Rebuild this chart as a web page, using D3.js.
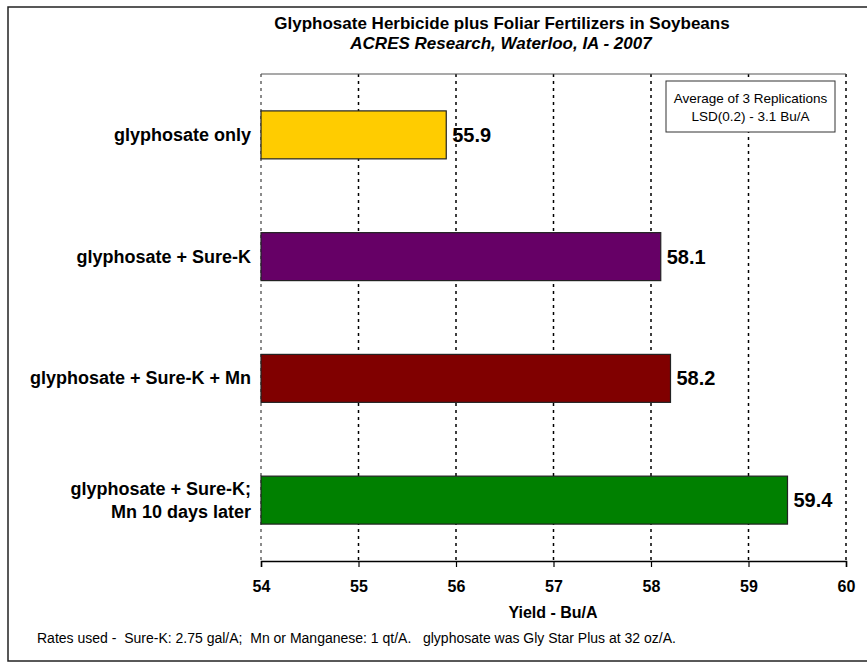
<!DOCTYPE html>
<html lang="en">
<head>
    <meta charset="UTF-8">
    <script src="https://d3js.org/d3.v7.min.js"></script>
    <style>
        body { margin: 0; background: white; }
        text { font-family: "Liberation Sans", Arial, sans-serif; fill: #000; }
        .cat { font-size: 18px; font-weight: bold; text-anchor: end; }
        .val { font-size: 20px; font-weight: bold; }
    </style>
</head>
<body>
    <svg id="chart" width="867" height="666"></svg>

    <script>
        // treatments (top to bottom) and yields
        const treatments = ["glyphosate only", "glyphosate + Sure-K", "glyphosate + Sure-K + Mn", "glyphosate + Sure-K;\nMn 10 days later"];
        const yields = [55.9, 58.1, 58.2, 59.4];
        const barColors = ["#ffcc00", "#660066", "#800000", "#008000"];
        const xTicks = [54, 55, 56, 57, 58, 59, 60];

        const title = "Glyphosate Herbicide plus Foliar Fertilizers in Soybeans";
        const subtitle = "ACRES Research, Waterloo, IA - 2007";
        const noteLines = ["Average of 3 Replications", "LSD(0.2) - 3.1 Bu/A"];
        const xTitle = "Yield - Bu/A";
        const footnote = "Rates used -  Sure-K: 2.75 gal/A;  Mn or Manganese: 1 qt/A.   glyphosate was Gly Star Plus at 32 oz/A.";

        const data = treatments.map((t, i) => ({ name: t, value: yields[i], color: barColors[i] }));

        const svg = d3.select("#chart");
        const plot = { left: 261, right: 846, top: 74, bottom: 561 };

        // outer frame (right edge runs off the picture)
        svg.append("rect")
            .attr("x", 8).attr("y", 7)
            .attr("width", 880).attr("height", 654)
            .attr("fill", "white")
            .attr("stroke", "#222")
            .attr("stroke-width", 1.5);

        const x = d3.scaleLinear().domain([54, 60]).range([plot.left, plot.right]);
        const y = d3.scaleBand()
            .domain(treatments)
            .range([plot.top, plot.bottom])
            .paddingInner(0.606)
            .paddingOuter(0.303);

        // titles
        svg.append("text")
            .attr("x", 502).attr("y", 29)
            .attr("text-anchor", "middle")
            .style("font-size", "17px").style("font-weight", "bold")
            .text(title);
        svg.append("text")
            .attr("x", 501).attr("y", 49)
            .attr("text-anchor", "middle")
            .style("font-size", "17px").style("font-weight", "bold").style("font-style", "italic")
            .text(subtitle);

        // dashed grid lines
        svg.append("g")
            .selectAll("line")
            .data(xTicks)
            .join("line")
            .attr("x1", d => x(d)).attr("x2", d => x(d))
            .attr("y1", plot.top).attr("y2", plot.bottom)
            .attr("stroke", d => (d === 54 ? "#666" : "#000"))
            .attr("stroke-width", 1.5)
            .attr("stroke-dasharray", "3,4");

        // top border
        svg.append("line")
            .attr("x1", plot.left).attr("x2", plot.right)
            .attr("y1", plot.top).attr("y2", plot.top)
            .attr("stroke", "#555").attr("stroke-width", 1.2);

        // note box
        const note = svg.append("g");
        note.append("rect")
            .attr("x", 666).attr("y", 81)
            .attr("width", 169).attr("height", 51)
            .attr("fill", "white")
            .attr("stroke", "#333");
        note.selectAll("text")
            .data(noteLines)
            .join("text")
            .attr("x", 750.5)
            .attr("y", (d, i) => 103 + i * 18)
            .attr("text-anchor", "middle")
            .style("font-size", "13.5px")
            .text(d => d);

        // bars
        svg.append("g")
            .selectAll("rect")
            .data(data)
            .join("rect")
            .attr("x", x(54))
            .attr("y", d => y(d.name))
            .attr("width", d => x(d.value) - x(54))
            .attr("height", y.bandwidth())
            .attr("fill", d => d.color)
            .attr("stroke", "#222")
            .attr("stroke-width", 1.2);

        // value labels
        svg.append("g")
            .selectAll("text")
            .data(data)
            .join("text")
            .attr("class", "val")
            .attr("x", d => x(d.value) + 6)
            .attr("y", d => y(d.name) + y.bandwidth() / 2 + 7)
            .text(d => d.value.toFixed(1));

        // category labels
        const cats = svg.append("g")
            .selectAll("text")
            .data(data)
            .join("text")
            .attr("class", "cat")
            .attr("y", d => y(d.name) + y.bandwidth() / 2 + 6);
        cats.each(function (d) {
            const lines = d.name.split("\n");
            const t = d3.select(this);
            lines.forEach((line, i) => {
                t.append("tspan")
                    .attr("x", 251)
                    .attr("dy", i === 0 ? (-(lines.length - 1) * 11.5) : 23)
                    .text(line);
            });
        });

        // x axis
        const xAxis = svg.append("g")
            .attr("transform", `translate(0,${plot.bottom})`)
            .call(d3.axisBottom(x).tickValues(xTicks).tickSize(6).tickPadding(14).tickFormat(d3.format("d")));
        xAxis.select(".domain").attr("stroke", "#000").attr("stroke-width", 1.5);
        xAxis.selectAll(".tick line").attr("stroke", "#000").attr("stroke-width", 1.2);
        xAxis.selectAll(".tick text")
            .attr("fill", "#000")
            .style("font-family", "\"Liberation Sans\", Arial, sans-serif")
            .style("font-size", "16px")
            .style("font-weight", "bold");

        svg.append("text")
            .attr("x", 553).attr("y", 618)
            .attr("text-anchor", "middle")
            .style("font-size", "16px").style("font-weight", "bold")
            .text(xTitle);

        svg.append("text")
            .attr("x", 37).attr("y", 643)
            .style("font-size", "14px")
            .style("white-space", "pre")
            .text(footnote);
    </script>
</body>
</html>
